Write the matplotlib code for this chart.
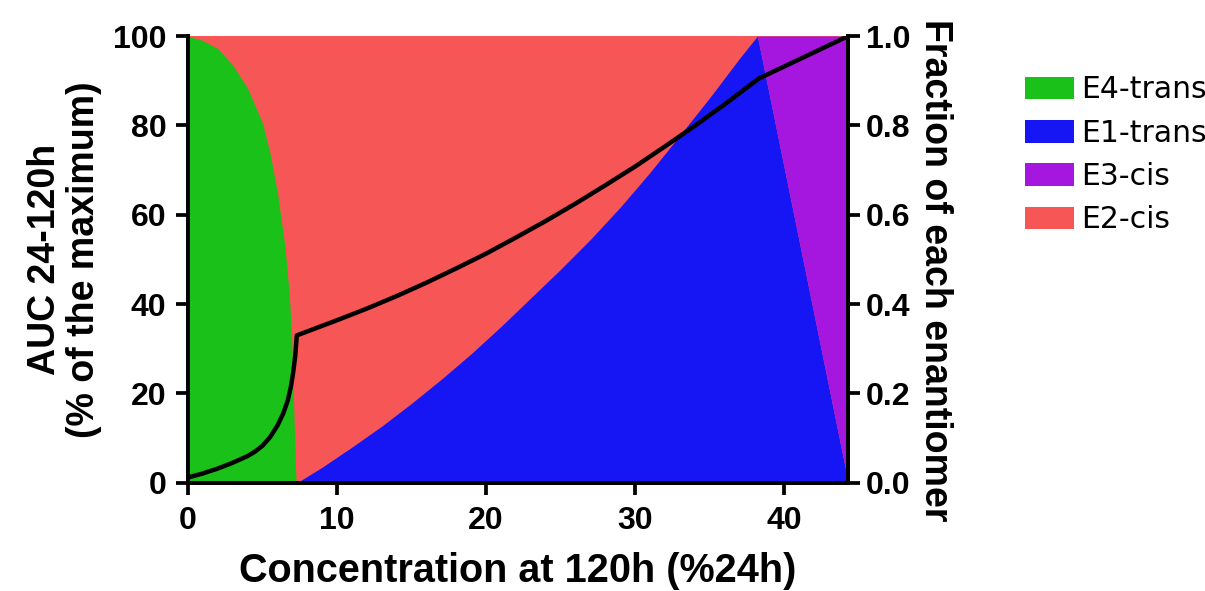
import matplotlib
matplotlib.use('Agg')
import matplotlib.pyplot as plt
from matplotlib.patches import Patch
import numpy as np

# E4-trans fraction (green), falls to zero near 7.3
x_e4 = [0, 1, 2, 3, 4, 5, 5.5, 6, 6.5, 6.8, 6.95, 7.05, 7.15, 7.25]
frac_e4 = [1.0, 0.99, 0.972, 0.935, 0.883, 0.805, 0.738, 0.65, 0.53, 0.42, 0.33, 0.22, 0.10, 0.0]

# E1-trans fraction (blue), rises to 1 at 38.2
x_e1 = [7.3, 9, 11, 13, 15, 17, 19, 21, 23, 25, 27, 29, 31, 33, 35, 37, 38.2]
frac_e1 = [0.0, 0.035, 0.080, 0.127, 0.178, 0.232, 0.289, 0.350, 0.414, 0.478, 0.545,
           0.617, 0.695, 0.778, 0.862, 0.950, 1.0]

# E3-cis fraction (purple) at the high end, the rest there is E1-trans
x_e3 = [38.2, 44.3]
frac_e3 = [0.0, 1.0]

# AUC 24-120h (% of maximum), black line
x_auc = [0, 1, 2, 3, 4, 4.5, 5, 5.5, 6, 6.4, 6.7, 6.9, 7.05, 7.2, 7.3,
         10, 12, 14, 16, 18, 20, 22, 24, 26, 28, 30, 32, 34, 36, 38.3, 44.3]
auc = [1.2, 2.1, 3.2, 4.5, 6.0, 7.0, 8.3, 10.2, 12.8, 15.6, 18.5, 21.5, 24.5, 28.5, 33.0,
       36.4, 39.0, 41.8, 44.8, 48.0, 51.3, 54.9, 58.6, 62.5, 66.6, 70.8, 75.3, 79.9, 84.7,
       90.5, 100]

labels = ['E4-trans', 'E1-trans', 'E3-cis', 'E2-cis']
colors = ['#19c119', '#1616f5', '#a517df', '#f75656']

BOLD = dict(family='Liberation Sans', fontweight='bold')

fig = plt.figure(figsize=(12.05, 5.91), dpi=100)
ax = fig.add_axes([0.156, 0.183, 0.548, 0.756])
ax2 = ax.twinx()

# fractions on the right axis: E2-cis is what is left above the others
x_all = [x_e4[0], x_e3[-1]]
ax2.fill_between(x_all, 0, 1, color=colors[3], lw=0)
ax2.fill_between(x_e4, 0, frac_e4, color=colors[0], lw=0)
x_blue = x_e1 + x_e3[1:]
y_blue = frac_e1 + list(1 - np.array(frac_e3[1:]))
ax2.fill_between(x_blue, 0, y_blue, color=colors[1], lw=0)
ax2.fill_between(x_e3, 1 - np.array(frac_e3), 1, color=colors[2], lw=0)

# AUC line on the left axis, drawn above the fills
ax.set_zorder(ax2.get_zorder() + 1)
ax.patch.set_visible(False)
ax.plot(x_auc, auc, color='black', lw=3.2, solid_joinstyle='round')

ax.set_xlim(0, 44.3)
ax.set_ylim(0, 100)
ax2.set_ylim(0, 1)
ax.set_xticks([0, 10, 20, 30, 40])
ax.set_yticks([0, 20, 40, 60, 80, 100])
ax2.set_yticks([0, 0.2, 0.4, 0.6, 0.8, 1.0])
ax2.set_yticklabels(['0.0', '0.2', '0.4', '0.6', '0.8', '1.0'])

for a in (ax, ax2):
    a.spines['top'].set_visible(False)
    for s in a.spines.values():
        s.set_linewidth(2.7)
    a.tick_params(width=2.7, length=8.5, direction='out')
    for t in a.get_xticklabels() + a.get_yticklabels():
        t.set_fontfamily('Liberation Sans')
        t.set_fontweight('bold')
        t.set_fontsize(23)
ax.tick_params(axis='y', pad=7)
ax.tick_params(axis='x', pad=8)
ax2.tick_params(axis='y', pad=4)

ax.set_xlabel('Concentration at 120h (%24h)', fontsize=28.5, labelpad=12, **BOLD)
ax.set_ylabel('AUC 24-120h\n(% of the maximum)', fontsize=27, labelpad=8,
              linespacing=1.1, **BOLD)
ax2.set_ylabel('Fraction of each enantiomer', fontsize=27, rotation=-90, **BOLD)
ax2.yaxis.set_label_coords(1.158, 0.475)

handles = [Patch(facecolor=c, edgecolor='none') for c in colors]
fig.legend(handles, labels, loc='upper left', bbox_to_anchor=(0.828, 0.918),
           frameon=False, handlelength=1.65, handleheight=0.8,
           handletextpad=0.25, labelspacing=0.48, prop={'family': 'DejaVu Sans', 'size': 21.5})

fig.savefig('out.png', dpi=100)
